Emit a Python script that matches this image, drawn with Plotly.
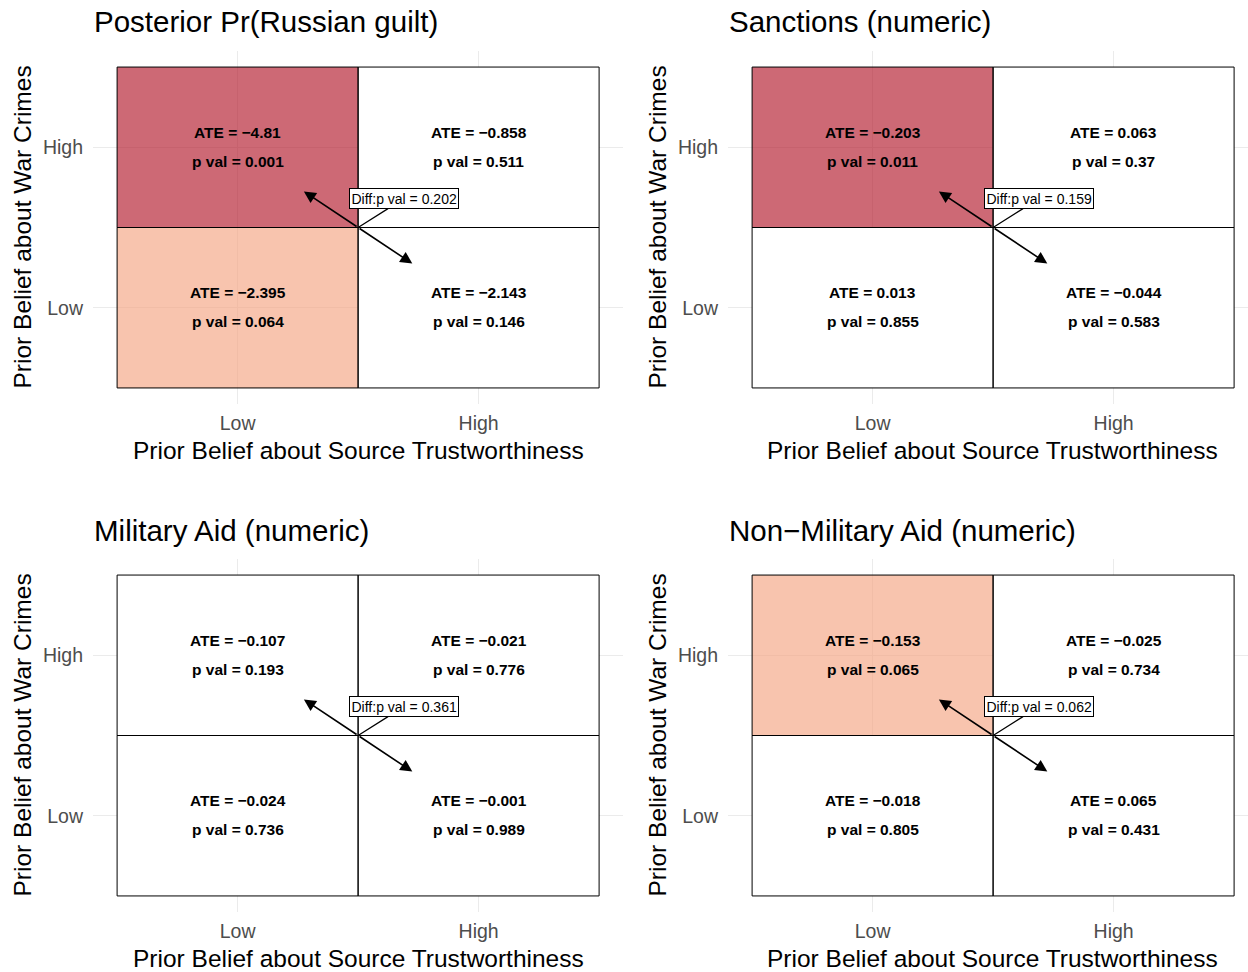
import plotly.graph_objects as go

# Cell order: (trust, war) = (Low, High), (High, High), (Low, Low), (High, Low)
trust_levels = ["Low", "High"]
war_levels = ["Low", "High"]
cell_trust = [1, 2, 1, 2]
cell_war = [2, 2, 1, 1]

panel_titles = [
    "Posterior Pr(Russian guilt)",
    "Sanctions (numeric)",
    "Military Aid (numeric)",
    "Non\u2212Military Aid (numeric)",
]
ate_guilt = [-4.81, -0.858, -2.395, -2.143]
pval_guilt = [0.001, 0.511, 0.064, 0.146]
ate_sanctions = [-0.203, 0.063, 0.013, -0.044]
pval_sanctions = [0.011, 0.37, 0.855, 0.583]
ate_military = [-0.107, -0.021, -0.024, -0.001]
pval_military = [0.193, 0.776, 0.736, 0.989]
ate_nonmilitary = [-0.153, -0.025, -0.018, 0.065]
pval_nonmilitary = [0.065, 0.734, 0.805, 0.431]
diff_pvals = [0.202, 0.159, 0.361, 0.062]

ates = [ate_guilt, ate_sanctions, ate_military, ate_nonmilitary]
pvals = [pval_guilt, pval_sanctions, pval_military, pval_nonmilitary]

W, H = 1248, 972
FONT = "Liberation Sans, Arial, Helvetica, sans-serif"
GRID = "#EBEBEB"
TICK = "#4D4D4D"
SIG_COLORS = ["rgba(255,255,255,1)", "rgba(244,165,130,0.65)", "rgba(178,24,43,0.65)"]

# panel plotting areas in pixels: (left, right, top, bottom)
panels_px = [
    (93, 623, 51, 404),
    (728, 1248, 51, 404),
    (93, 623, 559, 912),
    (728, 1248, 559, 912),
]
title_y = [22, 22, 530, 530]
UNIT_X = 241.0  # pixels per category step


def fx(p):
    return p / W


def fy(p):
    return 1 - p / H


def fmt(v):
    return str(v).replace("-", "\u2212")


def sig_code(p):
    if p < 0.05:
        return 2
    if p < 0.1:
        return 1
    return 0


fig = go.Figure()
annotations = []
shapes = []

for k in range(4):
    left, right, top, bottom = panels_px[k]
    ax_id = "" if k == 0 else str(k + 1)
    xname, yname = "x" + ax_id, "y" + ax_id

    # tile fill by significance level
    z = [[0, 0], [0, 0]]
    for i in range(4):
        z[cell_war[i] - 1][cell_trust[i] - 1] = sig_code(pvals[k][i])
    fig.add_trace(go.Heatmap(
        x=[1, 2], y=[1, 2], z=z, zmin=0, zmax=2,
        colorscale=[[0, SIG_COLORS[0]], [0.5, SIG_COLORS[1]], [1, SIG_COLORS[2]]],
        showscale=False, hoverinfo="skip", xaxis=xname, yaxis=yname,
    ))

    # tile borders
    for i in range(4):
        shapes.append(dict(
            type="rect", xref=xname, yref=yname,
            x0=cell_trust[i] - 0.5, x1=cell_trust[i] + 0.5,
            y0=cell_war[i] - 0.5, y1=cell_war[i] + 0.5,
            line=dict(color="black", width=1), fillcolor="rgba(0,0,0,0)", layer="above",
        ))

    # cell text
    for i in range(4):
        annotations.append(dict(
            x=cell_trust[i], y=cell_war[i], xref=xname, yref=yname,
            text="<b>ATE = " + fmt(ates[k][i]) + "</b>", showarrow=False,
            yshift=15, font=dict(size=15.5, color="black", family=FONT),
        ))
        annotations.append(dict(
            x=cell_trust[i], y=cell_war[i], xref=xname, yref=yname,
            text="<b>p val = " + fmt(pvals[k][i]) + "</b>", showarrow=False,
            yshift=-14, font=dict(size=15.5, color="black", family=FONT),
        ))

    # arrows from the centre toward the two diagonal cells
    for dx, dy in [(-0.225, 0.225), (0.225, -0.225)]:
        annotations.append(dict(
            x=1.5 + dx, y=1.5 + dy, ax=1.5, ay=1.5,
            xref=xname, yref=yname, axref=xname, ayref=yname,
            text="", showarrow=True, arrowhead=2, arrowsize=1.5, arrowwidth=1.6,
            arrowcolor="black", standoff=0, startstandoff=0,
        ))

    # difference label
    annotations.append(dict(
        x=1.5, y=1.5, ax=1.69, ay=1.68,
        xref=xname, yref=yname, axref=xname, ayref=yname,
        text="Diff:p val = " + fmt(diff_pvals[k]), showarrow=True, arrowhead=0,
        arrowwidth=1.2, arrowcolor="black", standoff=0,
        bgcolor="white", bordercolor="black", borderwidth=1, borderpad=1.5,
        font=dict(size=14, color="black", family=FONT),
    ))

    # panel title
    annotations.append(dict(
        x=fx(left - 1), y=fy(title_y[k]), xref="paper", yref="paper",
        xanchor="left", yanchor="middle", showarrow=False,
        text=panel_titles[k], font=dict(size=29.5, color="black", family=FONT),
    ))

    # axis titles
    annotations.append(dict(
        x=fx(left + 265), y=fy(bottom + 46), xref="paper", yref="paper",
        xanchor="center", yanchor="middle", showarrow=False,
        text="Prior Belief about Source Trustworthiness",
        font=dict(size=24.5, color="black", family=FONT),
    ))
    annotations.append(dict(
        x=fx(left - 71), y=fy((top + bottom) / 2), xref="paper", yref="paper",
        xanchor="center", yanchor="middle", showarrow=False, textangle=-90,
        text="Prior Belief about War Crimes",
        font=dict(size=24.5, color="black", family=FONT),
    ))

    x_hi = 0.4 + (right - left) / UNIT_X
    common = dict(
        showgrid=True, gridcolor=GRID, gridwidth=1.2, zeroline=False,
        showline=False, ticks="", tickvals=[1, 2], ticktext=trust_levels,
        tickfont=dict(size=19.5, color=TICK, family=FONT), fixedrange=True,
    )
    fig.update_layout(**{
        "xaxis" + ax_id: dict(common, domain=[fx(left), fx(right)], range=[0.4, x_hi],
                              anchor=yname, ticklabelstandoff=5),
        "yaxis" + ax_id: dict(common, domain=[fy(bottom), fy(top)], range=[0.4, 2.6],
                              anchor=xname, ticktext=war_levels, ticklabelstandoff=9),
    })

fig.update_layout(
    width=W, height=H, margin=dict(l=0, r=0, t=0, b=0),
    paper_bgcolor="white", plot_bgcolor="white", showlegend=False,
    annotations=annotations, shapes=shapes,
    font=dict(family=FONT),
)

fig.write_html("out.html")
